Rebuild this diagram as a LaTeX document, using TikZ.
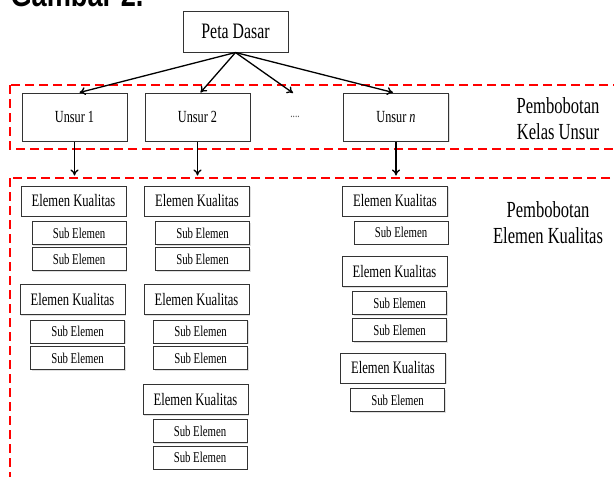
\documentclass[tikz,border=0pt]{standalone}
\usepackage{fontspec}
\setmainfont{Liberation Serif}[FakeStretch=0.72]
\newfontfamily\judulfont{Liberation Sans}[FakeStretch=0.8]
\usetikzlibrary{arrows.meta,shadows}
\newcommand\fsz[1]{\fontsize{#1}{1.15\dimexpr#1pt\relax}\selectfont}
\tikzset{
  kotak/.style={draw=black!80,line width=1pt,fill=white,inner sep=0pt,
    drop shadow={shadow xshift=1.3pt,shadow yshift=-1.3pt,fill=black!25}},
  unsur/.style={kotak,minimum width=105pt,minimum height=48pt,font=\fsz{17}},
  elemen/.style={kotak,minimum width=105pt,minimum height=30pt,font=\fsz{17.5}},
  subel/.style={kotak,minimum width=94pt,minimum height=23pt,font=\fsz{15}},
  garis/.style={red,line width=2.5pt,dash pattern=on 9pt off 5pt},
  panah/.style={-{To[length=6pt,width=8pt]},line width=1.3pt},
  label/.style={align=center,font=\fontsize{23}{26}\selectfont}
}
\begin{document}
\begin{tikzpicture}[x=1pt,y=-1pt]
\useasboundingbox (0,0) rectangle (614,477);
\node[anchor=base west,font=\judulfont\bfseries\fsz{34}] (judul) at (7,6) {Gambar 2.};
% kotak garis merah
\draw[garis] (10,85) rectangle (630,149);
\draw[garis] (10,178) rectangle (630,495);
\node[label] (bobot1) at (558,119) {Pembobotan\\Kelas Unsur};
\node[label] (bobot2) at (548,223) {Pembobotan\\Elemen Kualitas};
% peta dasar dan unsur
\node[kotak,minimum width=105pt,minimum height=41pt,font=\fsz{22}] (peta) at (235.5,31.5) {Peta Dasar};
\node[unsur] (u1) at (74.5,117) {Unsur 1};
\node[unsur] (u2) at (197.5,117) {Unsur 2};
\node[unsur] (un) at (396,117) {Unsur \textit{n}};
\node[font=\fsz{13},text=black!70] (titik) at (295,117) {....};
\coordinate (titikin) at (293,93);
\draw[panah] (peta.south) -- ([xshift=5pt]u1.north);
\draw[panah] (peta.south) -- ([xshift=3pt]u2.north);
\draw[panah] (peta.south) -- (titikin);
\draw[panah] (peta.south) -- ([xshift=-3pt]un.north);
\draw[panah] (u1.south) -- ([yshift=-34pt]u1.south);
\draw[panah] (u2.south) -- ([yshift=-34pt]u2.south);
\draw[panah] (un.south) -- ([yshift=-34pt]un.south);
% kolom 1
\node[elemen] (e11) at (73.5,201) {Elemen Kualitas};
\node[subel] (s111) at (79,233) {Sub Elemen};
\node[subel] (s112) at (79,259) {Sub Elemen};
\node[elemen] (e12) at (72.5,299.5) {Elemen Kualitas};
\node[subel] (s121) at (77.5,331.5) {Sub Elemen};
\node[subel] (s122) at (77.5,358) {Sub Elemen};
% kolom 2
\node[elemen] (e21) at (197,201) {Elemen Kualitas};
\node[subel] (s211) at (202.5,233) {Sub Elemen};
\node[subel] (s212) at (202.5,259) {Sub Elemen};
\node[elemen] (e22) at (196.5,299.5) {Elemen Kualitas};
\node[subel] (s221) at (200.5,331.5) {Sub Elemen};
\node[subel] (s222) at (200.5,358) {Sub Elemen};
\node[elemen] (e23) at (195.5,399.5) {Elemen Kualitas};
\node[subel] (s231) at (200,431) {Sub Elemen};
\node[subel] (s232) at (200,457.5) {Sub Elemen};
% kolom n
\node[elemen] (e31) at (395,201) {Elemen Kualitas};
\node[subel] (s311) at (401,232.5) {Sub Elemen};
\node[elemen] (e32) at (394.5,271.5) {Elemen Kualitas};
\node[subel] (s321) at (399.5,303) {Sub Elemen};
\node[subel] (s322) at (399.5,330) {Sub Elemen};
\node[elemen] (e33) at (393,368) {Elemen Kualitas};
\node[subel] (s331) at (397.5,400) {Sub Elemen};
\end{tikzpicture}
\end{document}
